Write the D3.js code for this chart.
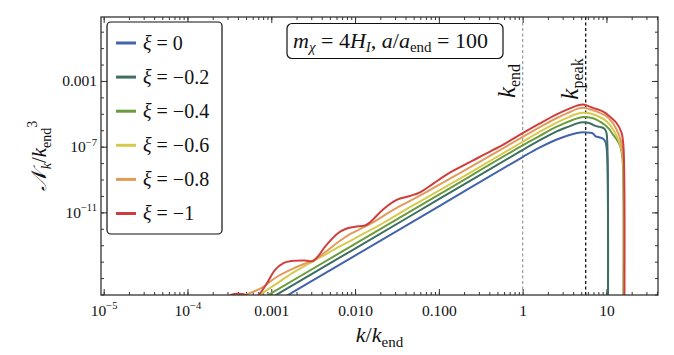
<!DOCTYPE html>
<html>
<head>
<meta charset="utf-8">
<script src="https://cdn.jsdelivr.net/npm/d3@7"></script>
<style>
  body { margin: 0; background: #fff; }
  svg text { font-family: "Liberation Serif", "DejaVu Serif", serif; }
</style>
</head>
<body>
<div id="chart"></div>
<script>
// series labels and colours (xi values)
var xiLabels = ["0", "\u22120.2", "\u22120.4", "\u22120.6", "\u22120.8", "\u22121"];
var seriesColors = ["#4363aa", "#3c6f5f", "#6b9b3c", "#d6ca4c", "#e39b5b", "#cf3e3e"];

// curves: [log10(k/k_end), log10(N_k/k_end^3)]
var xi0 = [[-3.2,-17.23],[-2.0,-13.63],[-1.0,-10.63],[0,-7.63],[0.2,-7.06],[0.4,-6.58],[0.55,-6.3],[0.65,-6.17],[0.72,-6.12],[0.8,-6.15],[0.84,-6.2],[0.87,-6.37],[0.92,-6.44],[0.96,-6.52],[0.985,-6.68],[1.0,-7.0],[1.012,-8],[1.018,-18]];
var xi02 = [[-3.2,-16.8],[-2.0,-13.2],[-1.0,-10.2],[0,-7.2],[0.2,-6.62],[0.4,-6.08],[0.55,-5.78],[0.65,-5.58],[0.72,-5.52],[0.8,-5.57],[0.86,-5.72],[0.9,-5.78],[0.94,-5.82],[0.98,-5.93],[1.0,-6.15],[1.01,-6.8],[1.018,-18]];
var xi04 = [[-3.2,-16.52],[-2.0,-12.92],[-1.0,-9.92],[0,-6.92],[0.2,-6.36],[0.4,-5.8],[0.55,-5.47],[0.65,-5.28],[0.72,-5.2],[0.8,-5.22],[0.88,-5.35],[0.96,-5.6],[1.0,-5.75],[1.04,-5.98],[1.08,-6.28],[1.12,-6.55],[1.16,-6.9],[1.18,-7.3],[1.195,-8],[1.2,-18]];
var xi06 = [[-3.3,-16.55],[-3.13,-16.0],[-2.95,-15.38],[-2.75,-14.7],[-2.6,-14.25],[-2.5,-13.98],[-2.35,-13.55],[-2.2,-13.12],[-2.05,-12.72],[-1.9,-12.3],[-1.75,-11.9],[-1.6,-11.45],[-1.45,-11.0],[-1.3,-10.55],[-1.15,-10.12],[-1.0,-9.68],[-0.5,-8.2],[0,-6.7],[0.2,-6.1],[0.4,-5.55],[0.55,-5.2],[0.65,-5.0],[0.72,-4.93],[0.8,-4.97],[0.9,-5.15],[1.0,-5.45],[1.08,-5.95],[1.14,-6.55],[1.18,-7.15],[1.2,-8],[1.205,-18]];
var xi08 = [[-3.5,-16.5],[-3.3,-16.0],[-3.2,-15.8],[-3.1,-15.55],[-2.95,-14.98],[-2.75,-14.45],[-2.6,-14.12],[-2.5,-13.92],[-2.35,-13.4],[-2.2,-12.8],[-2.05,-12.3],[-1.9,-11.92],[-1.75,-11.5],[-1.6,-11.02],[-1.45,-10.58],[-1.3,-10.18],[-1.15,-9.76],[-1.0,-9.33],[-0.5,-7.88],[0,-6.41],[0.2,-5.83],[0.4,-5.27],[0.55,-4.92],[0.65,-4.7],[0.72,-4.63],[0.8,-4.72],[0.9,-4.9],[1.0,-5.15],[1.08,-5.6],[1.15,-6.3],[1.19,-7.1],[1.205,-8],[1.21,-18]];
var xi1 = [[-3.6,-16.6],[-3.5,-16.08],[-3.42,-15.96],[-3.33,-15.98],[-3.25,-16.15],[-3.18,-16.12],[-3.133,-15.92],[-3.05,-15.3],[-2.954,-14.5],[-2.85,-14.08],[-2.757,-13.96],[-2.6,-13.93],[-2.5,-13.96],[-2.43,-13.6],[-2.36,-13.1],[-2.204,-12.27],[-2.1,-11.98],[-2.0,-11.87],[-1.882,-11.8],[-1.82,-11.6],[-1.663,-10.81],[-1.504,-10.24],[-1.345,-10.0],[-1.225,-9.78],[-1.067,-9.25],[-0.907,-8.7],[-0.748,-8.25],[-0.549,-7.72],[-0.39,-7.3],[-0.2,-6.78],[0,-6.18],[0.2,-5.6],[0.4,-5.05],[0.55,-4.7],[0.65,-4.5],[0.72,-4.43],[0.77,-4.5],[0.84,-4.64],[0.96,-4.86],[1.04,-5.16],[1.12,-5.56],[1.18,-6.15],[1.2,-6.8],[1.21,-8],[1.213,-18]];
var allSeries = [xi0, xi02, xi04, xi06, xi08, xi1];

// reference wavenumbers
var kEnd = 1;
var kPeak = 5.65;

// tick values and labels
var xMajorTicks = [1e-5, 1e-4, 1e-3, 1e-2, 1e-1, 1, 10];
var xTickLabels = [["10", "\u22125"], ["10", "\u22124"], ["0.001"], ["0.010"], ["0.100"], ["1"], ["10"]];
var yMajorTicks = [1e-3, 1e-7, 1e-11];
var yTickLabels = [["0.001"], ["10", "\u22127"], ["10", "\u221211"]];

function renderChart(el) {
    var width = 674, height = 355;
    var pLeft = 101, pRight = 658, pTop = 17, pBottom = 295;

    var svg = d3.select("#" + el).append("svg")
        .attr("width", width)
        .attr("height", height);

    var x = d3.scaleLog()
        .domain([Math.pow(10, -5.032), Math.pow(10, 1.615)])
        .range([pLeft, pRight]);

    var y = d3.scaleLog()
        .domain([Math.pow(10, -16.03), Math.pow(10, 0.894)])
        .range([pBottom, pTop]);

    svg.append("clipPath").attr("id", "clip")
      .append("rect")
        .attr("x", pLeft).attr("y", pTop)
        .attr("width", pRight - pLeft).attr("height", pBottom - pTop);

    // minor ticks
    var xMinor = x.ticks(60).filter(function(t) { return t >= x.domain()[0] && t <= x.domain()[1]; });
    var yMinor = d3.range(-16, 1).map(function(e) { return Math.pow(10, e); });

    var axisColor = "#333";

    function styleAxis(g) {
        g.select(".domain").remove();
        g.selectAll("line").attr("stroke", axisColor).attr("stroke-width", 1);
    }

    svg.append("g").attr("transform", "translate(0," + pBottom + ")")
        .call(d3.axisBottom(x).tickValues(xMinor).tickSize(-3).tickFormat(""))
        .call(styleAxis);
    svg.append("g").attr("transform", "translate(0," + pTop + ")")
        .call(d3.axisTop(x).tickValues(xMinor).tickSize(-3).tickFormat(""))
        .call(styleAxis);
    svg.append("g").attr("transform", "translate(0," + pTop + ")")
        .call(d3.axisTop(x).tickValues(xMajorTicks).tickSize(-6).tickFormat(""))
        .call(styleAxis);
    svg.append("g").attr("transform", "translate(" + pLeft + ",0)")
        .call(d3.axisLeft(y).tickValues(yMinor).tickSize(-3).tickFormat(""))
        .call(styleAxis);
    svg.append("g").attr("transform", "translate(" + pRight + ",0)")
        .call(d3.axisRight(y).tickValues(yMinor).tickSize(-3).tickFormat(""))
        .call(styleAxis);
    svg.append("g").attr("transform", "translate(" + pRight + ",0)")
        .call(d3.axisRight(y).tickValues(yMajorTicks).tickSize(-6).tickFormat(""))
        .call(styleAxis);

    // labels like 10^-5 with a raised exponent
    function supLabel(sel, parts, size) {
        sel.text(null);
        sel.append("tspan").text(parts[0]);
        if (parts.length > 1) {
            sel.append("tspan")
                .attr("dy", -size * 0.42)
                .style("font-size", (size * 0.68) + "px")
                .text(parts[1]);
        }
    }

    var xAxis = svg.append("g").attr("transform", "translate(0," + pBottom + ")")
        .call(d3.axisBottom(x).tickValues(xMajorTicks).tickSize(-6).tickPadding(10).tickFormat(""))
        .call(styleAxis);
    xAxis.selectAll(".tick text")
        .attr("fill", "#111")
        .style("font-size", "15.5px")
        .attr("dy", "0.71em")
        .each(function(d, i) { supLabel(d3.select(this), xTickLabels[i], 15.5); });

    var yAxis = svg.append("g").attr("transform", "translate(" + pLeft + ",0)")
        .call(d3.axisLeft(y).tickValues(yMajorTicks).tickSize(-6).tickPadding(4).tickFormat(""))
        .call(styleAxis);
    yAxis.selectAll(".tick text")
        .attr("fill", "#111")
        .style("font-size", "15.5px")
        .attr("dy", "0.32em")
        .each(function(d, i) { supLabel(d3.select(this), yTickLabels[i], 15.5); });

    // reference lines
    svg.append("line")
        .attr("x1", x(kEnd)).attr("x2", x(kEnd))
        .attr("y1", pTop).attr("y2", pBottom)
        .attr("stroke", "#999").attr("stroke-width", 1.2)
        .attr("stroke-dasharray", "3,2.5");
    svg.append("line")
        .attr("x1", x(kPeak)).attr("x2", x(kPeak))
        .attr("y1", pTop).attr("y2", pBottom)
        .attr("stroke", "#111").attr("stroke-width", 1.3)
        .attr("stroke-dasharray", "3,2.5");

    // curves
    var line = d3.line()
        .x(function(d) { return x(Math.pow(10, d[0])); })
        .y(function(d) { return y(Math.pow(10, d[1])); })
        .curve(d3.curveCatmullRom.alpha(0.5));

    svg.append("g").attr("clip-path", "url(#clip)")
      .selectAll("path")
        .data(allSeries)
        .enter()
        .append("path")
        .attr("d", line)
        .attr("fill", "none")
        .attr("stroke", function(d, i) { return seriesColors[i]; })
        .attr("stroke-width", 2)
        .attr("stroke-linejoin", "round");

    // frame
    svg.append("rect")
        .attr("x", pLeft).attr("y", pTop)
        .attr("width", pRight - pLeft).attr("height", pBottom - pTop)
        .attr("fill", "none")
        .attr("stroke", axisColor)
        .attr("stroke-width", 1.3);

    // k_end and k_peak labels
    function rotatedLabel(xPos, yPos, sub) {
        var t = svg.append("text")
            .attr("transform", "translate(" + xPos + "," + yPos + ") rotate(-90)")
            .attr("text-anchor", "middle")
            .style("font-size", "25px")
            .attr("fill", "#111");
        t.append("tspan").style("font-style", "italic").text("k");
        t.append("tspan").attr("dy", 5).style("font-size", "16px").text(sub);
    }
    rotatedLabel(515, 81, "end");
    rotatedLabel(578, 79, "peak");

    // legend
    var legend = svg.append("g");
    legend.append("rect")
        .attr("x", 107).attr("y", 22)
        .attr("width", 115).attr("height", 212)
        .attr("rx", 4)
        .attr("fill", "#fff")
        .attr("stroke", "#111")
        .attr("stroke-width", 1.2);

    var entries = legend.selectAll("g.entry")
        .data(xiLabels)
        .enter()
        .append("g")
        .attr("transform", function(d, i) { return "translate(116," + (43 + i * 34.1) + ")"; });
    entries.append("line")
        .attr("x1", 0).attr("x2", 20)
        .attr("stroke", function(d, i) { return seriesColors[i]; })
        .attr("stroke-width", 3);
    var entryText = entries.append("text")
        .attr("x", 27)
        .attr("dy", "0.33em")
        .style("font-size", "20px")
        .attr("fill", "#111");
    entryText.append("tspan").style("font-style", "italic").text("\u03be");
    entryText.append("tspan").text(function(d) { return " = " + d; });

    // parameter box
    svg.append("rect")
        .attr("x", 287).attr("y", 23.5)
        .attr("width", 216).attr("height", 35)
        .attr("rx", 5)
        .attr("fill", "#fff")
        .attr("stroke", "#111")
        .attr("stroke-width", 1.2);
    var info = svg.append("text")
        .attr("x", 293).attr("y", 47.5)
        .style("font-size", "22px")
        .attr("fill", "#111");
    info.append("tspan").style("font-style", "italic").text("m");
    info.append("tspan").attr("dy", 4).style("font-size", "15px").style("font-style", "italic").text("\u03c7");
    info.append("tspan").attr("dy", -4).text(" = 4");
    info.append("tspan").style("font-style", "italic").text("H");
    info.append("tspan").attr("dy", 4).style("font-size", "15px").style("font-style", "italic").text("I");
    info.append("tspan").attr("dy", -4).text(",  ");
    info.append("tspan").style("font-style", "italic").text("a");
    info.append("tspan").text("/");
    info.append("tspan").style("font-style", "italic").text("a");
    info.append("tspan").attr("dy", 4).style("font-size", "15px").text("end");
    info.append("tspan").attr("dy", -4).text(" = 100");

    // axis titles
    var xt = svg.append("text")
        .attr("x", (pLeft + pRight) / 2).attr("y", 342)
        .attr("text-anchor", "middle")
        .style("font-size", "22px")
        .attr("fill", "#111");
    xt.append("tspan").style("font-style", "italic").text("k");
    xt.append("tspan").text("/");
    xt.append("tspan").style("font-style", "italic").text("k");
    xt.append("tspan").attr("dy", 5).style("font-size", "15px").text("end");

    var yt = svg.append("text")
        .attr("transform", "translate(46," + ((pTop + pBottom) / 2) + ") rotate(-90)")
        .attr("text-anchor", "middle")
        .style("font-size", "21px")
        .attr("fill", "#111");
    yt.append("tspan").style("font-style", "italic").text("\ud835\udca9");
    yt.append("tspan").attr("dx", 2).attr("dy", 5).style("font-size", "14px").style("font-style", "italic").text("k");
    yt.append("tspan").attr("dy", -5).text("/");
    yt.append("tspan").style("font-style", "italic").text("k");
    yt.append("tspan").attr("dy", 5).style("font-size", "14px").text("end");
    yt.append("tspan").attr("dy", -14).style("font-size", "14px").text("3");
}

renderChart("chart");
</script>
</body>
</html>
